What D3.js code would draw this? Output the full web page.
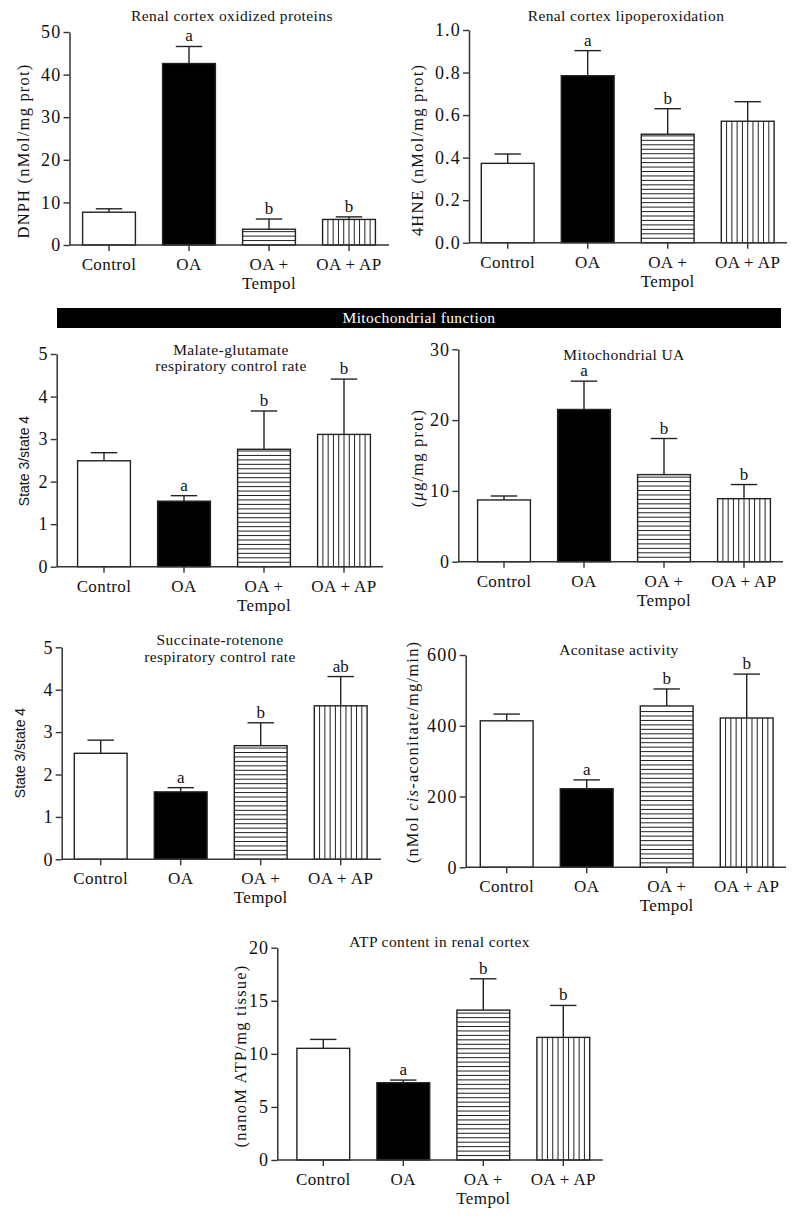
<!DOCTYPE html>
<html><head><meta charset="utf-8">
<script src="https://cdn.jsdelivr.net/npm/d3@7"></script>
<style>body{margin:0;background:#fff} svg{display:block}</style>
</head><body><svg id="c" width="797" height="1220"></svg>
<script>
// ---------- data ----------
const groups = ["Control", "OA", "OA + Tempol", "OA + AP"];
const groupLabels = [["Control"], ["OA"], ["OA +", "Tempol"], ["OA + AP"]];

const oxidizedMean = [7.7, 42.6, 3.7, 6.0];
const oxidizedSem  = [0.8, 4.0, 2.4, 0.6];
const oxidizedSig  = ["", "a", "b", "b"];
const oxidizedTicks = [0, 10, 20, 30, 40, 50];

const lipoMean = [0.373, 0.785, 0.51, 0.571];
const lipoSem  = [0.044, 0.118, 0.12, 0.092];
const lipoSig  = ["", "a", "b", ""];
const lipoTicks = [0, 0.2, 0.4, 0.6, 0.8, 1.0];

const malateMean = [2.49, 1.54, 2.76, 3.11];
const malateSem  = [0.19, 0.13, 0.90, 1.30];
const malateSig  = ["", "a", "b", "b"];
const malateTicks = [0, 1, 2, 3, 4, 5];

const uaMean = [8.72, 21.5, 12.3, 8.9];
const uaSem  = [0.56, 4.0, 5.1, 2.0];
const uaSig  = ["", "a", "b", "b"];
const uaTicks = [0, 10, 20, 30];

const succMean = [2.5, 1.59, 2.68, 3.62];
const succSem  = [0.31, 0.10, 0.54, 0.69];
const succSig  = ["", "a", "b", "ab"];
const succTicks = [0, 1, 2, 3, 4, 5];

const aconMean = [414, 222, 456, 422];
const aconSem  = [19, 25, 48, 124];
const aconSig  = ["", "a", "b", "b"];
const aconTicks = [0, 200, 400, 600];

const atpMean = [10.52, 7.28, 14.12, 11.55];
const atpSem  = [0.84, 0.25, 2.95, 3.01];
const atpSig  = ["", "a", "b", "b"];
const atpTicks = [0, 5, 10, 15, 20];

// ---------- layout ----------
const serif = "'Liberation Serif', 'Times New Roman', serif";
const sans = "'Liberation Sans', Arial, sans-serif";
const ink = "#222";

const panels = [
  {mean: oxidizedMean, sem: oxidizedSem, sig: oxidizedSig, ticks: oxidizedTicks, max: 50, fmt: d3.format("d"),
   ax: 69.5, axEnd: 389, c0: 109, y0: 245, yTop: 32,
   title: ["Renal cortex oxidized proteins"], tx: 232, ty: 21,
   ylabel: [{t: "DNPH (nMol/mg prot)"}], ylx: 23, yly: 151, ylFont: "serif"},
  {mean: lipoMean, sem: lipoSem, sig: lipoSig, ticks: lipoTicks, max: 1.0, fmt: d3.format(".1f"),
   ax: 469, axEnd: 787, c0: 507.7, y0: 242.7, yTop: 30,
   title: ["Renal cortex lipoperoxidation"], tx: 626, ty: 21,
   ylabel: [{t: "4HNE (nMol/mg prot)"}], ylx: 417, yly: 150, ylFont: "serif"},
  {mean: malateMean, sem: malateSem, sig: malateSig, ticks: malateTicks, max: 5, fmt: d3.format("d"),
   ax: 56.7, axEnd: 383, c0: 104, y0: 566.7, yTop: 354,
   title: ["Malate-glutamate", "respiratory control rate"], tx: 231, ty: 355, tdy: 16,
   ylabel: [{t: "State 3/state 4"}], ylx: 24, yly: 461, ylFont: "sans"},
  {mean: uaMean, sem: uaSem, sig: uaSig, ticks: uaTicks, max: 30, fmt: d3.format("d"),
   ax: 458.3, axEnd: 783, c0: 504, y0: 561.7, yTop: 349.3,
   title: ["Mitochondrial UA"], tx: 624, ty: 360,
   ylabel: [{t: "("}, {t: "μ", it: true}, {t: "g/mg prot)"}], ylx: 417, yly: 458, ylFont: "serif"},
  {mean: succMean, sem: succSem, sig: succSig, ticks: succTicks, max: 5, fmt: d3.format("d"),
   ax: 61.7, axEnd: 381, c0: 100.7, y0: 859.3, yTop: 647.3,
   title: ["Succinate-rotenone", "respiratory control rate"], tx: 220, ty: 645, tdy: 17,
   ylabel: [{t: "State 3/state 4"}], ylx: 20, yly: 753, ylFont: "sans"},
  {mean: aconMean, sem: aconSem, sig: aconSig, ticks: aconTicks, max: 600, fmt: d3.format("d"),
   ax: 465.7, axEnd: 786, c0: 506.7, y0: 867.3, yTop: 655,
   title: ["Aconitase activity"], tx: 619, ty: 655,
   ylabel: [{t: "(nMol "}, {t: "cis", it: true}, {t: "-aconitate/mg/min)"}], ylx: 412, yly: 752, ylFont: "serif"},
  {mean: atpMean, sem: atpSem, sig: atpSig, ticks: atpTicks, max: 20, fmt: d3.format("d"),
   ax: 277.3, axEnd: 602.7, c0: 323.3, y0: 1160, yTop: 947.7,
   title: ["ATP content in renal cortex"], tx: 439.5, ty: 946.7,
   ylabel: [{t: "(nanoM ATP/mg tissue)"}], ylx: 240, yly: 1056, ylFont: "serif"}
];

const svg = d3.select("#c");

// banner
svg.append("rect").attr("x", 57).attr("y", 308).attr("width", 724).attr("height", 20).attr("fill", "#000");
svg.append("text").attr("x", 419).attr("y", 323).attr("text-anchor", "middle")
  .attr("font-family", serif).attr("font-size", 15.5).attr("letter-spacing", 0.4)
  .attr("fill", "#fff").text("Mitochondrial function");

function drawPanel(p) {
  const g = svg.append("g");
  const x = d3.scaleBand().domain(groups).range([p.c0 - 40, p.c0 + 280]).paddingInner(0.34).paddingOuter(0.17);
  const y = d3.scaleLinear().domain([0, p.max]).range([p.y0, p.yTop]);
  const bw = x.bandwidth();

  groups.forEach((grp, i) => {
    const bx = x(grp), top = y(p.mean[i]), cx = bx + bw / 2;
    g.append("rect").attr("x", bx).attr("y", top).attr("width", bw).attr("height", p.y0 - top)
      .attr("fill", i === 1 ? "#000" : "#fff").attr("stroke", ink).attr("stroke-width", 1.4);
    if (i === 2) {
      for (let yy = p.y0 - 4.45; yy > top + 1.5; yy -= 4.45) {
        g.append("line").attr("x1", bx).attr("x2", bx + bw).attr("y1", yy).attr("y2", yy)
          .attr("stroke", ink).attr("stroke-width", 1);
      }
    }
    if (i === 3) {
      for (let k = 1; k < 10; k++) {
        const xx = bx + k * bw / 10;
        g.append("line").attr("x1", xx).attr("x2", xx).attr("y1", top).attr("y2", p.y0)
          .attr("stroke", ink).attr("stroke-width", 1);
      }
    }
    const et = y(p.mean[i] + p.sem[i]);
    g.append("line").attr("x1", cx).attr("x2", cx).attr("y1", top).attr("y2", et)
      .attr("stroke", ink).attr("stroke-width", 1.4);
    g.append("line").attr("x1", cx - bw / 4).attr("x2", cx + bw / 4).attr("y1", et).attr("y2", et)
      .attr("stroke", ink).attr("stroke-width", 1.4);
    if (p.sig[i]) {
      g.append("text").attr("x", cx).attr("y", et - 5).attr("text-anchor", "middle")
        .attr("font-family", serif).attr("font-size", 17).attr("fill", "#111").text(p.sig[i]);
    }
    const lab = g.append("text").attr("x", cx).attr("y", p.y0 + 25).attr("text-anchor", "middle")
      .attr("font-family", serif).attr("font-size", 17).attr("letter-spacing", 0.4).attr("fill", "#111");
    groupLabels[i].forEach((l, j) => {
      lab.append("tspan").attr("x", cx).attr("dy", j === 0 ? 0 : 19).text(l);
    });
  });

  // y axis
  const ya = g.append("g").attr("transform", `translate(${p.ax},0)`)
    .call(d3.axisLeft(y).tickValues(p.ticks).tickFormat(p.fmt).tickSize(6).tickSizeOuter(0).tickPadding(2));
  ya.select(".domain").attr("stroke", "#333").attr("stroke-width", 1.5);
  ya.selectAll(".tick line").attr("stroke", "#333").attr("stroke-width", 1.4);
  ya.selectAll(".tick text").attr("font-family", serif).attr("font-size", 18).attr("letter-spacing", 1.2).attr("fill", "#111");

  // x axis
  const xa = g.append("g").attr("transform", `translate(0,${p.y0})`)
    .call(d3.axisBottom(x).tickFormat("").tickSize(6).tickSizeOuter(0));
  xa.select(".domain").remove();
  xa.selectAll(".tick line").attr("stroke", "#333").attr("stroke-width", 1.4);
  g.append("line").attr("x1", p.ax).attr("x2", p.axEnd).attr("y1", p.y0).attr("y2", p.y0)
    .attr("stroke", "#333").attr("stroke-width", 1.5);

  // title
  const t = g.append("text").attr("x", p.tx).attr("y", p.ty).attr("text-anchor", "middle")
    .attr("font-family", serif).attr("font-size", 15.5).attr("letter-spacing", 0.4).attr("fill", "#111");
  p.title.forEach((l, j) => t.append("tspan").attr("x", p.tx).attr("dy", j === 0 ? 0 : p.tdy).text(l));

  // y label
  const yl = g.append("text").attr("transform", `translate(${p.ylx},${p.yly}) rotate(-90)`)
    .attr("text-anchor", "middle").attr("dominant-baseline", "central").attr("fill", "#111")
    .attr("font-family", p.ylFont === "sans" ? sans : serif)
    .attr("font-size", p.ylFont === "sans" ? 14 : 16.5)
    .attr("letter-spacing", p.ylFont === "sans" ? 0 : 1.2);
  p.ylabel.forEach(s => yl.append("tspan").attr("font-style", s.it ? "italic" : "normal").text(s.t));
}

panels.forEach(drawPanel);
</script>
</body></html>
